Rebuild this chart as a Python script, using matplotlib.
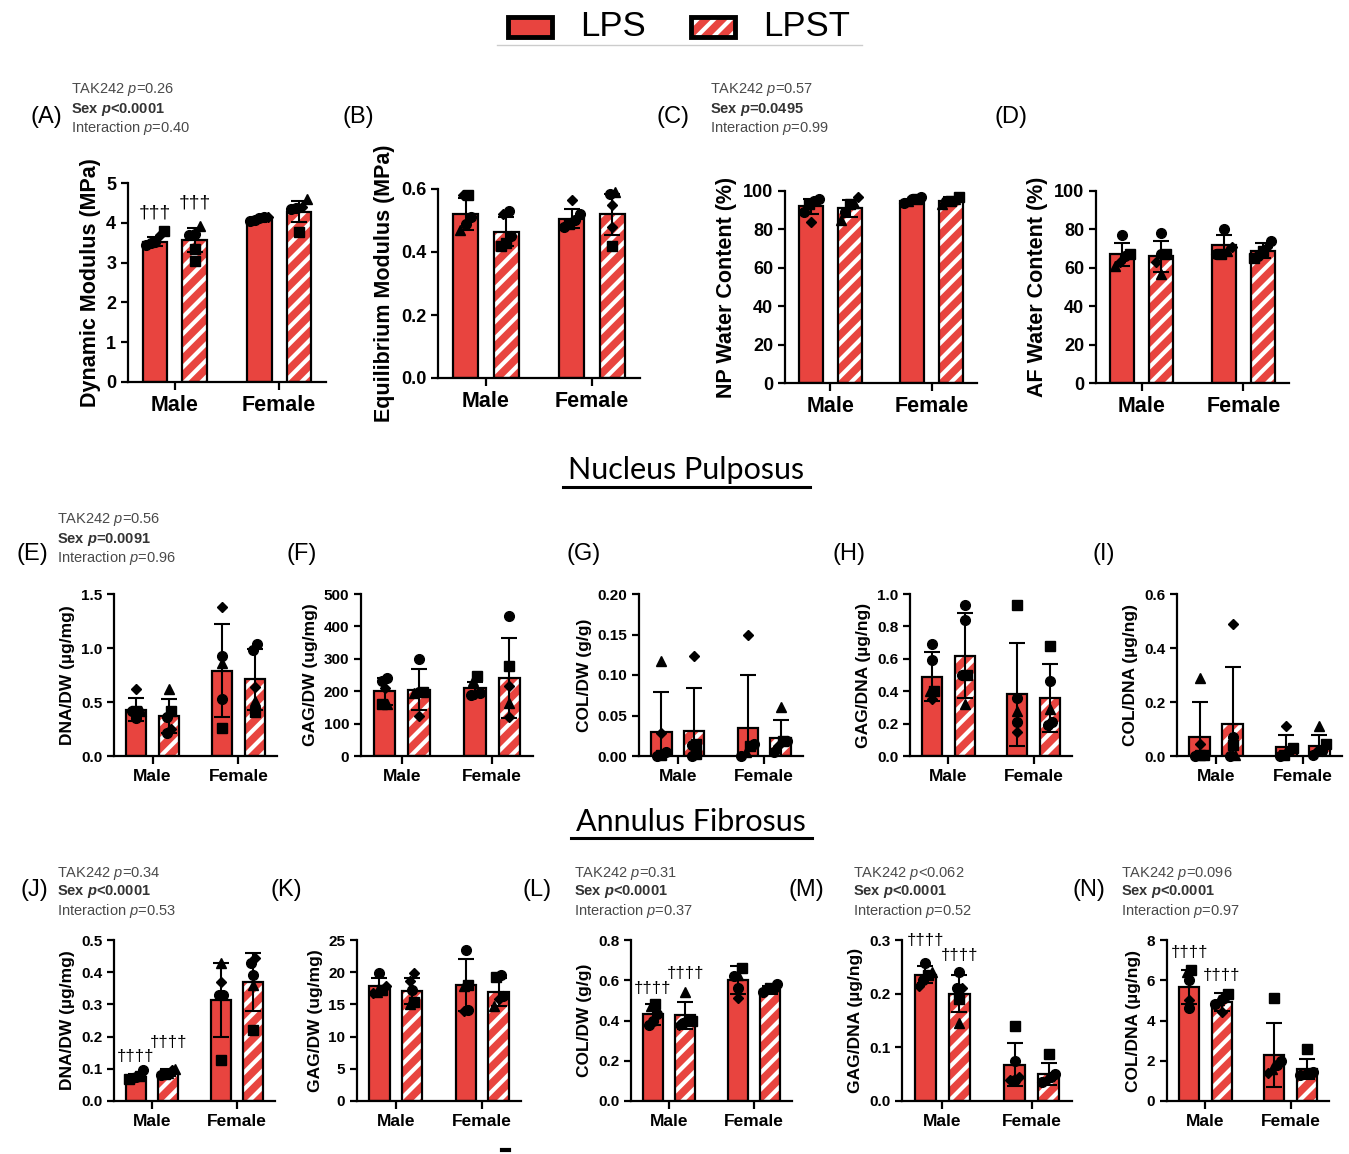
import numpy as np
import matplotlib.pyplot as plt
from matplotlib.patches import Rectangle

plt.rcParams['font.family'] = ['Liberation Sans', 'DejaVu Sans']
plt.rcParams['mathtext.fontset'] = 'custom'
plt.rcParams['mathtext.rm'] = 'Liberation Sans'
plt.rcParams['mathtext.it'] = 'Liberation Sans:italic'
plt.rcParams['mathtext.bf'] = 'Liberation Sans:bold'
plt.rcParams['mathtext.bfit'] = 'Liberation Sans:italic:bold'
plt.rcParams['hatch.linewidth'] = 3.0

RED = '#E8443F'
W, H = 1349, 1154

groups = ['Male', 'Female']
legend_names = ['LPS', 'LPST']

# order in every list: Male-LPS, Male-LPST, Female-LPS, Female-LPST
A_mean = [3.53, 3.57, 4.08, 4.28]
A_sd = [0.12, 0.30, 0.07, 0.27]
A_pts = [[3.45, 3.48, 3.52, 3.70, 3.80], [3.05, 3.35, 3.70, 3.72, 3.92],
         [4.05, 4.08, 4.12, 4.15, 4.15], [3.78, 4.35, 4.38, 4.40, 4.60]]
A_mk = ['oooDs', 'ssoo^', 'ooooD', 'sooD^']

B_mean = [0.52, 0.465, 0.505, 0.52]
B_sd = [0.05, 0.045, 0.03, 0.065]
B_pts = [[0.47, 0.49, 0.51, 0.58, 0.58], [0.42, 0.43, 0.45, 0.52, 0.53],
         [0.48, 0.49, 0.50, 0.52, 0.565], [0.42, 0.48, 0.55, 0.585, 0.59]]
B_mk = ['^ooDs', 'ssoDo', 'osooD', 'sDDo^']

C_mean = [92, 91, 95, 95]
C_sd = [4, 4.5, 1, 2]
C_pts = [[84, 89, 93, 95, 96], [85, 89, 93, 94, 97],
         [94, 95, 96, 96, 97], [93, 95, 95, 96, 97]]
C_mk = ['Dosoo', '^os^D', 'o^oso', '^os^s']

D_mean = [67, 66, 72, 69]
D_sd = [6, 8, 5, 4]
D_pts = [[61, 63, 66, 67, 77], [57, 63, 67, 67, 78],
         [67, 67, 69, 71, 80], [65, 66, 69, 71, 74]]
D_mk = ['^Doso', '^Doso', 'os^Do', 'sosDo']

E_mean = [0.43, 0.37, 0.79, 0.71]
E_sd = [0.11, 0.16, 0.43, 0.28]
E_pts = [[0.35, 0.42, 0.42, 0.42, 0.62], [0.21, 0.25, 0.36, 0.42, 0.62],
         [0.26, 0.53, 0.86, 0.93, 1.38], [0.41, 0.51, 0.64, 0.98, 1.04]]
E_mk = ['oos^D', 'oDos^', 'so^oD', 's^Doo']

F_mean = [200, 205, 210, 240]
F_sd = [42, 62, 18, 123]
F_pts = [[160, 160, 210, 233, 242], [125, 195, 197, 197, 300],
         [188, 190, 195, 230, 247], [120, 165, 215, 278, 433]]
F_mk = ['s^Doo', 'D^oso', 'oDo^s', 'D^Dso']

G_mean = [0.030, 0.031, 0.035, 0.022]
G_sd = [0.049, 0.053, 0.065, 0.022]
G_pts = [[0.0, 0.001, 0.005, 0.028, 0.117], [0.0, 0.002, 0.014, 0.015, 0.124],
         [0.0, 0.005, 0.012, 0.015, 0.150], [0.005, 0.012, 0.018, 0.018, 0.060]]
G_mk = ['osoD^', 'ososD', 'o^soD', 'oDso^']

H_mean = [0.49, 0.62, 0.38, 0.36]
H_sd = [0.15, 0.26, 0.32, 0.21]
H_pts = [[0.35, 0.40, 0.40, 0.59, 0.69], [0.32, 0.50, 0.50, 0.84, 0.93],
         [0.15, 0.21, 0.28, 0.36, 0.93], [0.19, 0.21, 0.29, 0.46, 0.68]]
H_mk = ['D^soo', '^osoo', 'Do^os', 'oo^os']

I_mean = [0.07, 0.12, 0.032, 0.038]
I_sd = [0.13, 0.21, 0.045, 0.04]
I_pts = [[0.0, 0.002, 0.005, 0.045, 0.29], [0.0, 0.005, 0.04, 0.07, 0.49],
         [0.0, 0.005, 0.02, 0.03, 0.11], [0.005, 0.02, 0.02, 0.045, 0.11]]
I_mk = ['ossD^', 'o^soD', 'ososD', 'oDos^']

J_mean = [0.075, 0.088, 0.315, 0.37]
J_sd = [0.01, 0.01, 0.115, 0.09]
J_pts = [[0.068, 0.072, 0.075, 0.078, 0.095], [0.080, 0.085, 0.087, 0.095, 0.100],
         [0.128, 0.33, 0.33, 0.37, 0.43], [0.22, 0.36, 0.39, 0.43, 0.445]]
J_mk = ['sooso', 'os^D^', 'sooD^', 's^ooD']

K_mean = [17.8, 17.1, 18.0, 16.9]
K_sd = [1.3, 2.0, 4.0, 2.2]
K_pts = [[16.8, 17.0, 17.2, 17.8, 19.8], [15.0, 15.3, 17.3, 18.7, 19.8],
         [14.0, 14.2, 17.8, 18.0, 23.5], [14.7, 15.8, 16.3, 19.3, 19.5]]
K_mk = ['D^sDo', '^soDD', 'Do^so', '^Doso']

L_mean = [0.43, 0.425, 0.60, 0.55]
L_sd = [0.05, 0.065, 0.07, 0.02]
L_pts = [[0.38, 0.40, 0.43, 0.47, 0.48], [0.38, 0.39, 0.40, 0.40, 0.54],
         [0.51, 0.56, 0.62, 0.625, 0.66], [0.54, 0.55, 0.56, 0.56, 0.58]]
L_mk = ['ooo^s', 'Doos^', 'Doo^s', 'oDsoo']

M_mean = [0.235, 0.20, 0.068, 0.05]
M_sd = [0.016, 0.035, 0.04, 0.02]
M_pts = [[0.215, 0.225, 0.235, 0.240, 0.258], [0.145, 0.19, 0.21, 0.21, 0.24],
         [0.040, 0.040, 0.045, 0.075, 0.14], [0.035, 0.040, 0.045, 0.050, 0.087]]
M_mk = ['Dos^o', '^soDo', 'DoDos', 'oDoos']

N_mean = [5.65, 4.9, 2.3, 1.6]
N_sd = [0.85, 0.45, 1.6, 0.5]
N_pts = [[4.6, 5.0, 6.0, 6.4, 6.5], [4.4, 4.8, 5.0, 5.1, 5.3],
         [1.4, 1.6, 1.8, 2.0, 5.1], [1.3, 1.35, 1.4, 1.45, 2.6]]
N_mk = ['oDo^s', 'Do^os', 'D^oos', 'oDoos']

stats = {
    'A': ('0.26', '<0.0001', '0.40'),
    'C': ('0.57', '=0.0495', '0.99'),
    'E': ('0.56', '=0.0091', '0.96'),
    'J': ('0.34', '<0.0001', '0.53'),
    'L': ('0.31', '<0.0001', '0.37'),
    'M': ('<0.062', '<0.0001', '0.52'),
    'N': ('0.096', '<0.0001', '0.97'),
}

fig = plt.figure(figsize=(W / 100, H / 100), dpi=100)

# overlay in pixel coordinates for legend, titles and panel letters
ov = fig.add_axes([0, 0, 1, 1])
ov.set_xlim(0, W)
ov.set_ylim(H, 0)
ov.axis('off')


def px_rect(x0, x1, ytop, ybot):
    return [x0 / W, 1 - ybot / H, (x1 - x0) / W, (ybot - ytop) / H]


off = 0.19
bw = 0.235
msz = {'o': 7, 's': 6.5, '^': 7.5, 'D': 5.5}


def spread(vals, top):
    # GraphPad-like scatter: points close in value are spread sideways
    vals = np.asarray(vals, dtype=float)
    order = np.argsort(vals)
    clusters = []
    for idx in order:
        if clusters and vals[idx] - vals[clusters[-1][-1]] < 0.045 * top:
            clusters[-1].append(idx)
        else:
            clusters.append([idx])
    dx = np.zeros(len(vals))
    for c in clusters:
        n = len(c)
        step = min(0.05, 0.17 / max(n - 1, 1))
        for k, idx in enumerate(c):
            dx[idx] = (k - (n - 1) / 2) * step
    return dx


def panel(box, means, sds, pts, mks, top, yticks, yfmt, ylabel, big):
    ax = fig.add_axes(px_rect(*box))
    xs = [-off, off, 1 - off, 1 + off]
    for i in range(4):
        if i % 2 == 0:
            ax.bar(xs[i], means[i], width=bw, color=RED, edgecolor='black',
                   linewidth=1.6, zorder=2)
        else:
            ax.bar(xs[i], means[i], width=bw, color=RED, edgecolor='white',
                   hatch='//', linewidth=0, zorder=2)
            ax.bar(xs[i], means[i], width=bw, fill=False, edgecolor='black',
                   linewidth=1.6, zorder=3)
        ax.errorbar(xs[i], means[i], yerr=sds[i], color='black', capsize=6,
                    elinewidth=1.5, capthick=1.5, zorder=4)
        dx = spread(pts[i], top)
        for j, (v, m) in enumerate(zip(pts[i], mks[i])):
            ax.plot(xs[i] + dx[j], v, marker=m, color='black', ms=msz[m],
                    zorder=5, clip_on=False, ls='none')
    ax.set_xlim(-0.45, 1.45)
    ax.set_ylim(0, top)
    ax.set_yticks(yticks)
    ax.set_yticklabels([yfmt.format(t) for t in yticks])
    ax.set_xticks([0, 1])
    ax.set_xticklabels(groups)
    for s in ['top', 'right']:
        ax.spines[s].set_visible(False)
    for s in ['left', 'bottom']:
        ax.spines[s].set_linewidth(1.6)
    tsz = 13 if big else 11
    csz = 15.5 if big else 12.5
    lsz = 15.5 if big else 12.5
    ax.tick_params(axis='y', labelsize=tsz, width=1.6, length=5)
    ax.tick_params(axis='x', labelsize=csz, width=1.6, length=6)
    for t in ax.get_xticklabels() + ax.get_yticklabels():
        t.set_fontweight('bold')
    ax.set_ylabel(ylabel, fontsize=lsz, fontweight='bold', labelpad=4)
    return ax


axA = panel((128, 326, 183, 382), A_mean, A_sd, A_pts, A_mk, 5, np.arange(0, 6, 1), '{:.0f}',
            'Dynamic Modulus (MPa)', True)
axB = panel((438, 640, 189, 378), B_mean, B_sd, B_pts, B_mk, 0.6, np.arange(0, 0.61, 0.2), '{:.1f}',
            'Equilibrium Modulus (MPa)', True)
axC = panel((785, 977, 191, 383), C_mean, C_sd, C_pts, C_mk, 100, np.arange(0, 101, 20), '{:.0f}',
            'NP Water Content (%)', True)
axD = panel((1096, 1289, 191, 383), D_mean, D_sd, D_pts, D_mk, 100, np.arange(0, 101, 20), '{:.0f}',
            'AF Water Content (%)', True)

axE = panel((114, 277, 594, 756), E_mean, E_sd, E_pts, E_mk, 1.5, np.arange(0, 1.51, 0.5), '{:.1f}',
            'DNA/DW (µg/mg)', False)
axF = panel((361, 533, 594, 756), F_mean, F_sd, F_pts, F_mk, 500, np.arange(0, 501, 100), '{:.0f}',
            'GAG/DW (ug/mg)', False)
axG = panel((639, 803, 594, 756), G_mean, G_sd, G_pts, G_mk, 0.2, np.arange(0, 0.201, 0.05), '{:.2f}',
            'COL/DW (g/g)', False)
axH = panel((910, 1072, 594, 756), H_mean, H_sd, H_pts, H_mk, 1.0, np.arange(0, 1.01, 0.2), '{:.1f}',
            'GAG/DNA (µg/ng)', False)
axI = panel((1177, 1342, 594, 756), I_mean, I_sd, I_pts, I_mk, 0.6, np.arange(0, 0.61, 0.2), '{:.1f}',
            'COL/DNA (µg/ng)', False)

axJ = panel((114, 275, 940, 1101), J_mean, J_sd, J_pts, J_mk, 0.5, np.arange(0, 0.51, 0.1), '{:.1f}',
            'DNA/DW (µg/mg)', False)
axK = panel((357, 521, 940, 1101), K_mean, K_sd, K_pts, K_mk, 25, np.arange(0, 26, 5), '{:.0f}',
            'GAG/DW (ug/mg)', False)
axL = panel((631, 792, 940, 1101), L_mean, L_sd, L_pts, L_mk, 0.8, np.arange(0, 0.81, 0.2), '{:.1f}',
            'COL/DW (g/g)', False)
axM = panel((902, 1072, 940, 1101), M_mean, M_sd, M_pts, M_mk, 0.3, np.arange(0, 0.31, 0.1), '{:.1f}',
            'GAG/DNA (µg/ng)', False)
axN = panel((1167, 1329, 940, 1101), N_mean, N_sd, N_pts, N_mk, 8, np.arange(0, 9, 2), '{:.0f}',
            'COL/DNA (µg/ng)', False)

# dagger annotations (value positions)
daggers = [(axA, -off, 4.25, '†††', 14), (axA, off, 4.5, '†††', 14),
           (axJ, -off, 0.137, '††††', 12), (axJ, off, 0.183, '††††', 12),
           (axL, -off, 0.56, '††††', 12), (axL, off, 0.636, '††††', 12),
           (axM, -off, 0.30, '††††', 12), (axM, off, 0.272, '††††', 12),
           (axN, -off, 7.4, '††††', 12), (axN, off, 6.26, '††††', 12)]
for ax, x, y, s, fs in daggers:
    ax.text(x, y, s, ha='center', va='center', fontsize=fs, clip_on=False)

# panel letters
letters = {'A': (30, 117), 'B': (343, 117), 'C': (657, 117), 'D': (995, 117),
           'E': (17, 554), 'F': (287, 554), 'G': (567, 554), 'H': (833, 554), 'I': (1092, 554),
           'J': (20, 890), 'K': (270, 890), 'L': (523, 890), 'M': (789, 890), 'N': (1073, 890)}
for k, (x, y) in letters.items():
    ov.text(x, y, '(' + k + ')', fontsize=17, ha='left', va='center')

stat_pos = {'A': (71, 90), 'C': (710, 90), 'E': (57, 520), 'J': (57, 873),
            'L': (574, 873), 'M': (853, 873), 'N': (1121, 873)}
for k, (x, y) in stat_pos.items():
    tak, sex, inter = stats[k]
    ov.text(x, y, 'TAK242 $\\mathit{p}$' + (tak if tak[0] in '<=' else '=' + tak),
            fontsize=10.5, color='#4a4a4a', va='center')
    ov.text(x, y + 19, 'Sex $\\mathbfit{p}$' + sex, fontsize=10.5, color='#333333',
            fontweight='bold', va='center')
    ov.text(x, y + 38, 'Interaction $\\mathit{p}$=' + inter, fontsize=10.5,
            color='#4a4a4a', va='center')

# legend
ov.add_patch(Rectangle((508, 17), 44, 20, facecolor=RED, edgecolor='black', linewidth=3.5))
ov.add_patch(Rectangle((691, 17), 44, 20, facecolor=RED, edgecolor='white', hatch='//', linewidth=0))
ov.add_patch(Rectangle((691, 17), 44, 20, fill=False, edgecolor='black', linewidth=3.5))
ov.text(580, 27, legend_names[0], fontsize=25, va='center', ha='left')
ov.text(763, 27, legend_names[1], fontsize=25, va='center', ha='left')
ov.plot([497, 862], [45, 45], color='#cccccc', lw=1)

# section titles
ov.text(686, 470, 'Nucleus Pulposus', fontsize=22, family='Lato', ha='center', va='center')
ov.plot([563, 810], [487, 487], color='black', lw=2.2)
ov.text(691, 822, 'Annulus Fibrosus', fontsize=22, family='Lato', ha='center', va='center')
ov.plot([571, 812], [838, 838], color='black', lw=2.2)
ov.plot([502, 509], [1150, 1150], color='black', lw=3)

fig.savefig('out.png', dpi=100)
